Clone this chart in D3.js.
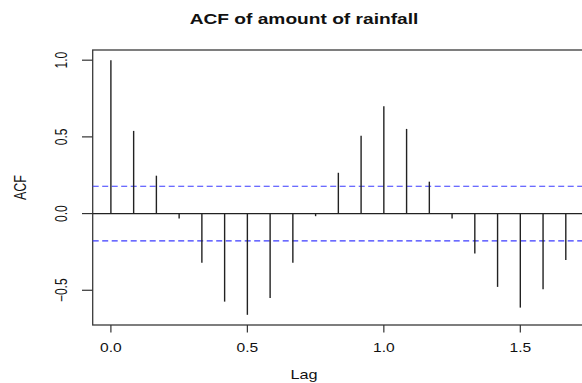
<!DOCTYPE html>
<html>
<head>
<meta charset="utf-8">
<script src="https://cdn.jsdelivr.net/npm/d3@7"></script>
<style>
  body { margin: 0; background: #fff; }
  svg { display: block; }
  text { font-family: "Liberation Sans", Arial, sans-serif; fill: #111; }
</style>
</head>
<body>
<svg id="chart" width="582" height="383"></svg>
<script>
// Lags (in years, monthly data: k/12)
const lags = d3.range(0, 21).map(k => k / 12);
// ACF values
const acfValues = [1.0, 0.539, 0.247, -0.032, -0.320, -0.574, -0.660, -0.550, -0.320, -0.017,
                   0.266, 0.508, 0.699, 0.552, 0.208, -0.032, -0.260, -0.478, -0.613, -0.494, -0.303];
const ciBound = 0.178;
const xTicks = [0, 0.5, 1.0, 1.5];
const yTicks = [-0.5, 0, 0.5, 1.0];
const titleText = "ACF of amount of rainfall";
const xLabel = "Lag";
const yLabel = "ACF";

const svg = d3.select("#chart");
const L = 92.7, T = 50, B = 325, R = 584;
const SX = 1.3; // horizontal stretch of text in the reference

// R-style 4% padded ranges
const xExt = d3.extent(lags), xPad = (xExt[1] - xExt[0]) * 0.04;
const yExt = d3.extent(acfValues), yPad = (yExt[1] - yExt[0]) * 0.04;
const x = d3.scaleLinear().domain([xExt[0] - xPad, xExt[1] + xPad]).range([L, R]);
const y = d3.scaleLinear().domain([yExt[0] - yPad, yExt[1] + yPad]).range([B, T]);

// Box
svg.append("rect").attr("x", L).attr("y", T).attr("width", R - L).attr("height", B - T)
  .attr("fill", "none").attr("stroke", "#3a3a3a").attr("stroke-width", 1.3);

// Zero line
svg.append("line").attr("x1", L).attr("x2", R).attr("y1", y(0)).attr("y2", y(0))
  .attr("stroke", "#222").attr("stroke-width", 1.2);

// Confidence lines
[ciBound, -ciBound].forEach(v => {
  svg.append("line").attr("x1", L).attr("x2", R).attr("y1", y(v)).attr("y2", y(v))
    .attr("stroke", "#3b3bff").attr("stroke-width", 1.1).attr("stroke-dasharray", "6,3.5");
});

// Bars
svg.append("g").selectAll("line").data(acfValues).join("line")
  .attr("x1", (d, i) => x(lags[i])).attr("x2", (d, i) => x(lags[i]))
  .attr("y1", y(0)).attr("y2", d => y(d))
  .attr("stroke", "#222").attr("stroke-width", 1.4);

// X axis
const xAxis = svg.append("g");
xTicks.forEach(t => {
  xAxis.append("line").attr("x1", x(t)).attr("x2", x(t)).attr("y1", B).attr("y2", B + 7.5)
    .attr("stroke", "#333").attr("stroke-width", 1.2);
  xAxis.append("text").attr("transform", `translate(${x(t)},352) scale(${SX},1)`)
    .attr("text-anchor", "middle").attr("font-size", 12).text(d3.format(".1f")(t));
});

// Y axis
const yAxis = svg.append("g");
yTicks.forEach(t => {
  yAxis.append("line").attr("x1", L - 10.7).attr("x2", L).attr("y1", y(t)).attr("y2", y(t))
    .attr("stroke", "#333").attr("stroke-width", 1.2);
  yAxis.append("text").attr("transform", `translate(67,${y(t)}) scale(${SX},1) rotate(-90)`)
    .attr("text-anchor", "middle").attr("font-size", 12).text(d3.format(".1f")(t));
});

// Labels
svg.append("text").attr("transform", `translate(304,24) scale(1.33,1)`)
  .attr("text-anchor", "middle").attr("font-size", 14.4).attr("font-weight", "bold").text(titleText);
svg.append("text").attr("transform", `translate(304,379) scale(${SX},1)`)
  .attr("text-anchor", "middle").attr("font-size", 12.5).text(xLabel);
svg.append("text").attr("transform", `translate(26,${(T + B) / 2}) scale(${SX},1) rotate(-90)`)
  .attr("text-anchor", "middle").attr("font-size", 12.5).text(yLabel);
</script>
</body>
</html>
